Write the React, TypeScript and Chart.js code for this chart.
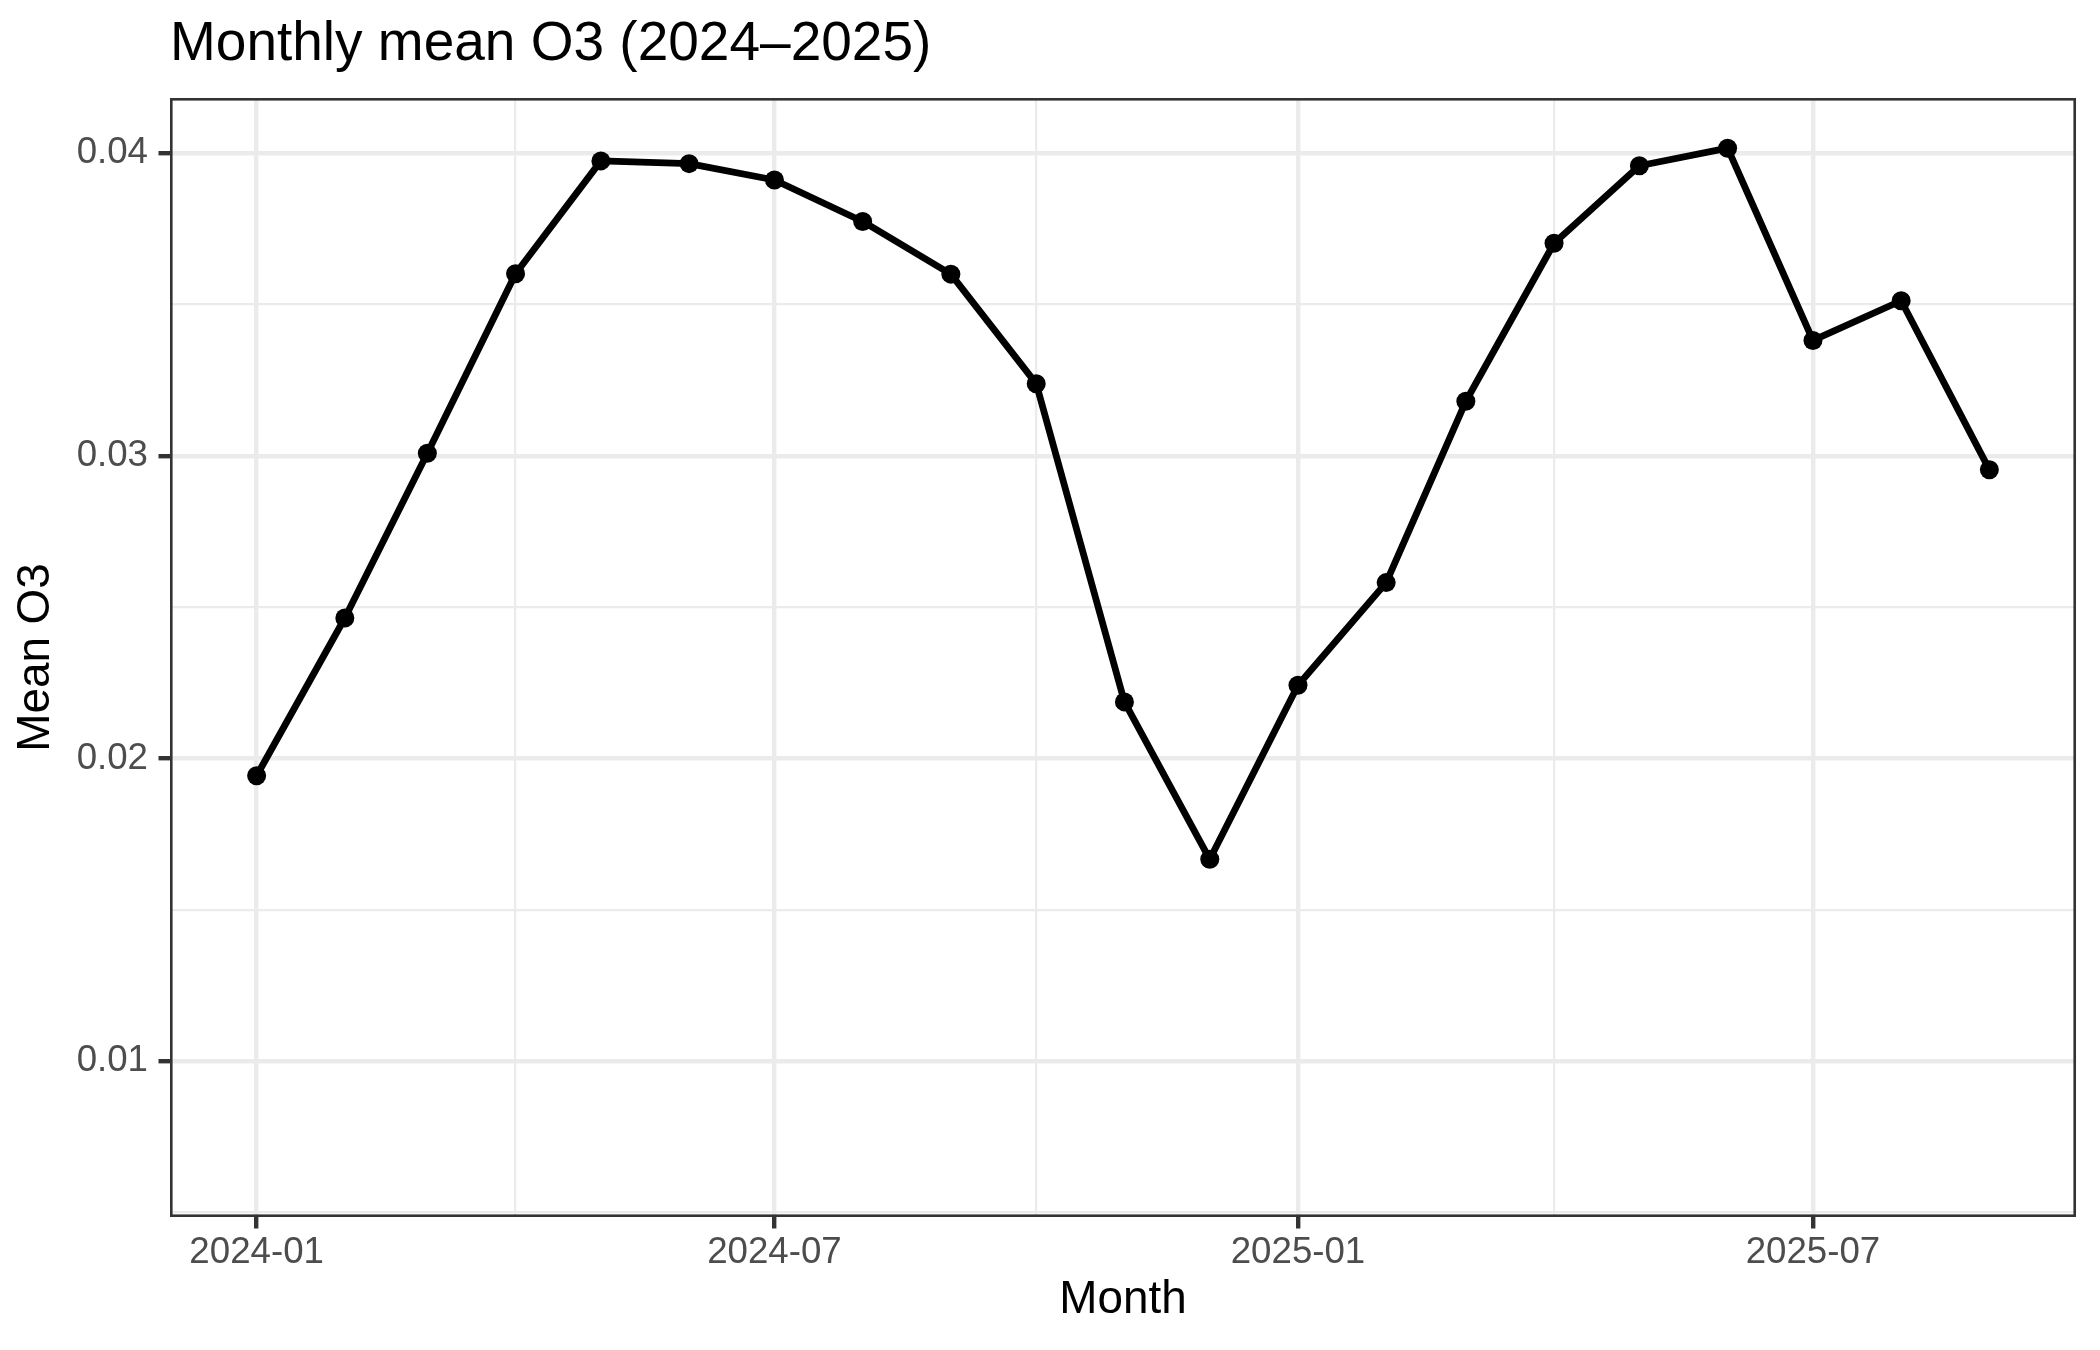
import React, { useEffect, useRef } from "react";
import { Chart, registerables } from "chart.js";

Chart.register(...registerables);

// ---- data ----
const months = [
  "2024-01", "2024-02", "2024-03", "2024-04", "2024-05", "2024-06", "2024-07",
  "2024-08", "2024-09", "2024-10", "2024-11", "2024-12", "2025-01", "2025-02",
  "2025-03", "2025-04", "2025-05", "2025-06", "2025-07", "2025-08", "2025-09",
];
const meanO3 = [
  0.01943, 0.02464, 0.03008, 0.03601, 0.03974, 0.03965, 0.03911,
  0.03774, 0.036, 0.03238, 0.02187, 0.01667, 0.02242, 0.02581,
  0.0318, 0.03702, 0.03958, 0.04016, 0.03381, 0.03512, 0.02954,
];
const xMajorTicks = ["2024-01", "2024-07", "2025-01", "2025-07"];
const xMinorTicks = ["2024-04", "2024-10", "2025-04", "2025-10"];
const yMajorTicks = [0.01, 0.02, 0.03, 0.04];
const yMajorLabels = ["0.01", "0.02", "0.03", "0.04"];
const yMinorTicks = [0.005, 0.015, 0.025, 0.035];
const yLimits = [0.004854, 0.041818];

const TITLE = "Monthly mean O3 (2024\u20132025)";
const X_TITLE = "Month";
const Y_TITLE = "Mean O3";

const FONT = "'Liberation Sans', Arial, Helvetica, sans-serif";
const GRID = "#EBEBEB";
const DARK = "#333333";

const DAY = 86400000;
const ORIGIN = Date.UTC(2024, 0, 1);
function monthToDay(m: string): number {
  const [y, mo] = m.split("-").map(Number);
  return (Date.UTC(y, mo - 1, 1) - ORIGIN) / DAY;
}

const xs = months.map(monthToDay);
const xLo = Math.min(...xs);
const xHi = Math.max(...xs);
const xPad = 0.05 * (xHi - xLo);

const xMajorDays = xMajorTicks.map(monthToDay);
const xMinorDays = xMinorTicks.map(monthToDay);

const isMajorX = (v: number) => xMajorDays.some((d) => Math.abs(d - v) < 0.01);
const isMajorY = (v: number) => yMajorTicks.some((d) => Math.abs(d - v) < 1e-9);

const panelBorder = {
  id: "panelBorder",
  afterDatasetsDraw(chart: any) {
    const { ctx, chartArea: a } = chart;
    ctx.save();
    ctx.strokeStyle = DARK;
    ctx.lineWidth = 2.6;
    ctx.strokeRect(a.left + 1.3, a.top + 1.3, a.width - 2.6, a.height - 2.6);
    ctx.restore();
  },
};

export default function App() {
  const ref = useRef<HTMLCanvasElement>(null);

  useEffect(() => {
    const points = months.map((m, i) => ({ x: xs[i], y: meanO3[i] }));
    const chart = new Chart(ref.current as HTMLCanvasElement, {
      type: "line",
      data: {
        datasets: [
          {
            label: "Mean O3",
            data: points,
            borderColor: "#000000",
            backgroundColor: "#000000",
            borderWidth: 6.8,
            borderJoinStyle: "round",
            tension: 0,
            pointRadius: 9.5,
            pointHoverRadius: 9.5,
            pointBorderWidth: 0,
            pointBackgroundColor: "#000000",
          },
        ],
      },
      plugins: [panelBorder],
      options: {
        animation: false,
        responsive: true,
        maintainAspectRatio: false,
        devicePixelRatio: 1,
        layout: { padding: { left: 0, top: 0, right: 24, bottom: 0 } },
        plugins: {
          legend: { display: false },
          tooltip: { enabled: false },
          title: {
            display: true,
            text: TITLE,
            align: "start",
            fullSize: false,
            color: "#000000",
            font: { family: FONT, size: 55, weight: "normal" },
            padding: { top: 11.5, bottom: 20.5 },
          },
        },
        scales: {
          x: {
            type: "linear",
            min: xLo - xPad,
            max: xHi + xPad,
            afterBuildTicks: (scale: any) => {
              scale.ticks = [...xMajorDays, ...xMinorDays]
                .sort((a, b) => a - b)
                .map((v) => ({ value: v }));
            },
            afterFit: (scale: any) => {
              scale.height = 133;
            },
            ticks: {
              autoSkip: false,
              maxRotation: 0,
              minRotation: 0,
              padding: 2,
              color: "#4D4D4D",
              font: { family: FONT, size: 36.67 },
              callback: (value: any) => {
                const i = xMajorDays.findIndex((d) => Math.abs(d - Number(value)) < 0.01);
                return i >= 0 ? xMajorTicks[i] : "";
              },
            },
            grid: {
              drawOnChartArea: true,
              drawTicks: true,
              tickLength: 11.5,
              color: GRID,
              lineWidth: (ctx: any) => (ctx.tick && isMajorX(ctx.tick.value) ? 4.4 : 2.2),
              tickColor: (ctx: any) =>
                ctx.tick && isMajorX(ctx.tick.value) ? DARK : "rgba(0,0,0,0)",
              tickWidth: 4.4,
            },
            border: { display: false },
            title: {
              display: true,
              text: X_TITLE,
              color: "#000000",
              font: { family: FONT, size: 45.83 },
              padding: { top: 0, bottom: 21.7 },
            },
          },
          y: {
            type: "linear",
            min: yLimits[0],
            max: yLimits[1],
            afterBuildTicks: (scale: any) => {
              scale.ticks = [...yMajorTicks, ...yMinorTicks]
                .sort((a, b) => a - b)
                .map((v) => ({ value: v }));
            },
            afterFit: (scale: any) => {
              scale.width = 170;
            },
            ticks: {
              autoSkip: false,
              padding: 10.5,
              color: "#4D4D4D",
              font: { family: FONT, size: 36.67 },
              callback: (value: any) => {
                const i = yMajorTicks.findIndex((d) => Math.abs(d - Number(value)) < 1e-9);
                return i >= 0 ? yMajorLabels[i] : "";
              },
            },
            grid: {
              drawOnChartArea: true,
              drawTicks: true,
              tickLength: 11.5,
              color: GRID,
              lineWidth: (ctx: any) => (ctx.tick && isMajorY(ctx.tick.value) ? 4.4 : 2.2),
              tickColor: (ctx: any) =>
                ctx.tick && isMajorY(ctx.tick.value) ? DARK : "rgba(0,0,0,0)",
              tickWidth: 4.4,
            },
            border: { display: false },
            title: {
              display: true,
              text: Y_TITLE,
              color: "#000000",
              font: { family: FONT, size: 45.83 },
              padding: { top: 9.3, bottom: 0 },
            },
          },
        },
      },
    } as any);
    return () => chart.destroy();
  }, []);

  return (
    <div style={{ position: "absolute", left: 0, top: 0, width: 2100, height: 1350, background: "#ffffff" }}>
      <canvas ref={ref} />
    </div>
  );
}
